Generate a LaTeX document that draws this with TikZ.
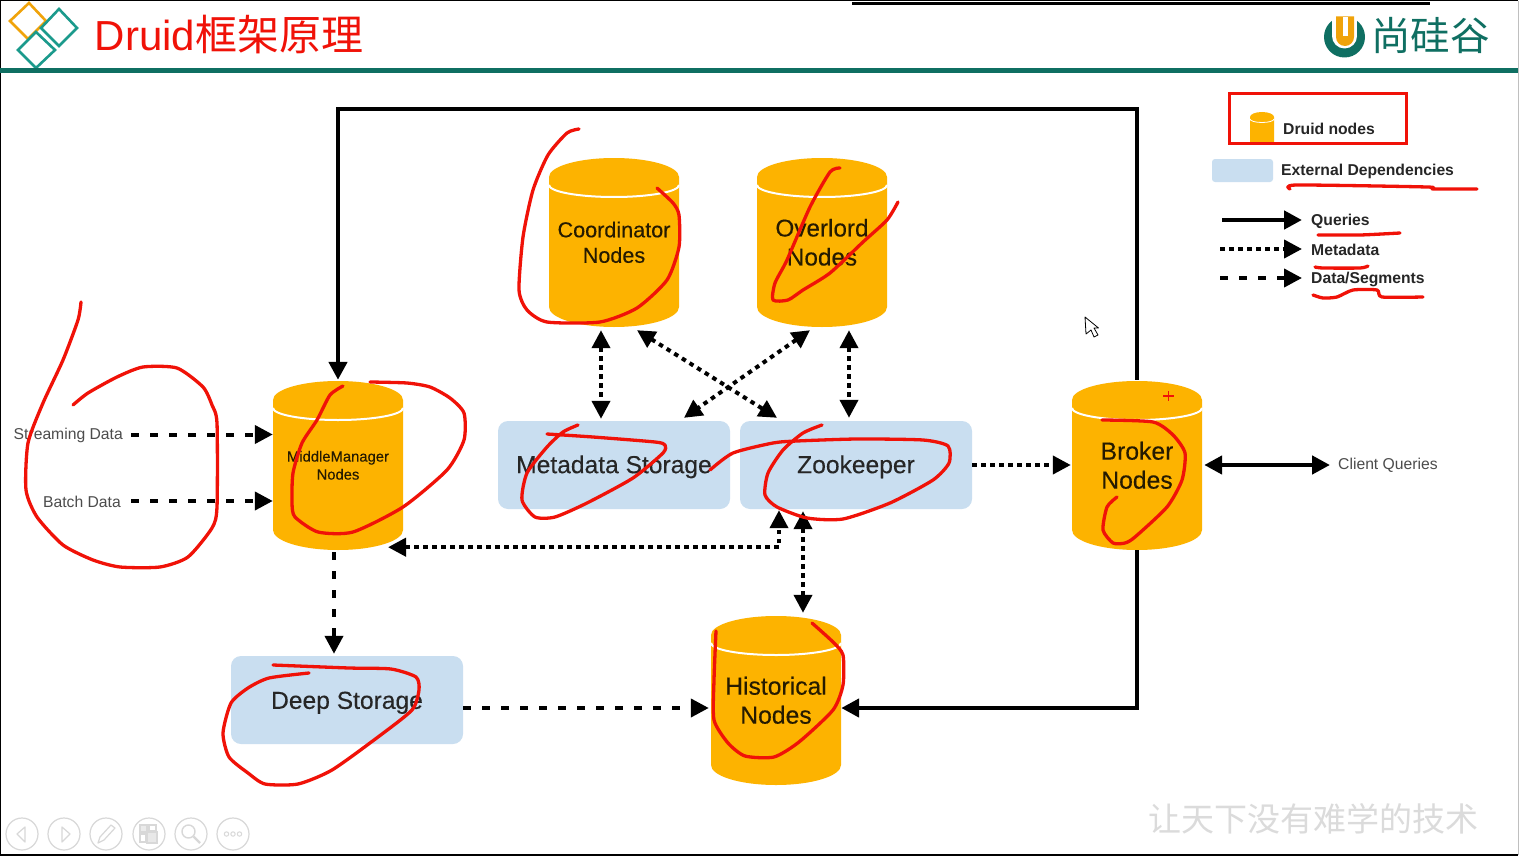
\documentclass[tikz,border=0pt]{standalone}
\usepackage{fontspec}
\setmainfont{Liberation Sans}
\newfontfamily\cjk{Noto Sans CJK SC}
\usetikzlibrary{arrows.meta,calc}
\definecolor{drum}{HTML}{FDB300}
\definecolor{extbox}{HTML}{C9DEF0}
\definecolor{tealbar}{HTML}{0F6F62}
\definecolor{tealdia}{HTML}{1B9A8C}
\definecolor{orgdia}{HTML}{F0A30A}
\definecolor{inkred}{HTML}{F01208}
\definecolor{ctrl}{HTML}{D8D8D8}
\newcommand{\fsz}[2]{\fontsize{#1}{#2}\selectfont}
\newcommand{\medw}{\addfontfeature{FakeBold=0.25}}
\tikzset{
  x=1pt,y=-1pt,
  qarrow/.style={line width=4.5pt,-{Triangle[length=18pt,width=18pt]}},
  qarrowboth/.style={line width=4.5pt,{Triangle[length=18pt,width=18pt]}-{Triangle[length=18pt,width=18pt]}},
  marrow/.style={line width=4pt,dash pattern=on 4.5pt off 4.5pt,-{Triangle[length=18pt,width=18pt]}},
  marrowboth/.style={line width=4pt,dash pattern=on 4.5pt off 4.5pt,{Triangle[length=18pt,width=18pt]}-{Triangle[length=18pt,width=18pt]}},
  darrow/.style={line width=4pt,dash pattern=on 8pt off 11pt,-{Triangle[length=18pt,width=18pt]}},
  extnode/.style={fill=extbox,rounded corners=10pt,minimum width=232pt,minimum height=88pt,inner sep=0pt},
  extlabel/.style={inner sep=0pt,text=black!85,yshift=-1.8pt,font=\medw\fsz{24.6}{29}},
  cylnode/.style={minimum width=130pt,minimum height=170pt,inner sep=0pt},
  cyllabel/.style={inner sep=0pt,align=center,text=black!85!drum,yshift=-0.3pt},
  smalllabel/.style={inner sep=0pt,text=black!70,font=\fsz{15.7}{18}},
  legendlabel/.style={inner sep=0pt,anchor=west,text=black!85,font=\bfseries\fsz{15.7}{18}},
  inkstroke/.style={draw=inkred,line width=3.3pt,line cap=round,line join=round,smooth,tension=0.4},
  ctrlring/.style={draw=ctrl,line width=1.2pt},
  diamondline/.style={line width=2.6pt,line join=miter},
}
% name, left, top, font, text
\newcommand{\drumcyl}[5]{%
  \fill[drum] ({#2},{#3+20}) -- ({#2},{#3+150})
    arc[start angle=180,end angle=360,x radius=65pt,y radius=20pt]
    -- ({#2+130},{#3+20})
    arc[start angle=0,end angle=180,x radius=65pt,y radius=19pt] -- cycle;
  \draw[white,line width=2pt] ({#2},{#3+28})
    arc[start angle=180,end angle=360,x radius=65pt,y radius=12pt];
  \node[cylnode,label={[cyllabel,font=#4]center:#5}] (#1) at ({#2+65},{#3+85}) {};
}
\begin{document}
\begin{tikzpicture}
\useasboundingbox (0,0) rectangle (1520,856);
\fill[white] (0,0) rectangle (1520,856);
% slide frame
\draw[black,line width=1.5pt] (1518,0.5) -- (0.5,0.5) -- (0.5,855.2) -- (1518,855.2);
\draw[black!25,line width=1pt] (1518.5,1) -- (1518.5,855);
\fill[black] (852,2) rectangle (1430,5);
% header
\draw[orgdia,diamondline] (29,3) -- (46,21) -- (28,39) -- (10,21) -- cycle;
\draw[tealdia,diamondline] (59,9) -- (77,28) -- (59,46) -- (41,28) -- cycle;
\draw[tealdia,diamondline] (36,32) -- (55,50) -- (36,68) -- (18,50) -- cycle;
\fill[tealbar] (0,68) rectangle (1518,73);
\node[inner sep=0pt,anchor=west,text=inkred,font=\fsz{42}{42}] (title) at (94.5,35) {Druid{\cjk 框架原理}};
% logo
\fill[tealbar] (1344.5,37) circle[radius=20.5pt];
\fill[white] (1332,14) rectangle (1357,36);
\fill[white] (1344.5,36) circle[radius=12.5pt];
\fill[orgdia] (1336,16.5) -- (1354,16.5) -- (1354,37)
  arc[start angle=0,end angle=-180,radius=9pt] -- cycle;
\fill[white] (1342.5,17) rectangle (1347.5,36);
\node[inner sep=0pt,anchor=west,text=tealbar,font=\cjk\fsz{39.5}{40}] (brand) at (1371,36) {尚硅谷};
% external dependency boxes
\node[extnode,label={[extlabel]center:Metadata Storage}] (meta) at (614,465) {};
\node[extnode,label={[extlabel]center:Zookeeper}] (zk) at (856,465) {};
\node[extnode,label={[extlabel,yshift=-1pt]center:Deep Storage}] (deep) at (347,700) {};
% druid nodes
\drumcyl{coord}{549}{157}{\medw\fsz{21.6}{25.5}}{Coordinator\\Nodes}
\drumcyl{over}{757}{157}{\medw\fsz{24.3}{29}}{Overlord\\Nodes}
\drumcyl{mm}{273}{380}{\medw\fsz{14.8}{18}}{MiddleManager\\Nodes}
\drumcyl{broker}{1072}{380}{\medw\fsz{24.7}{29}}{Broker\\Nodes}
\drumcyl{hist}{711}{615}{\medw\fsz{24.7}{29}}{Historical\\Nodes}
% side labels
\node[smalllabel,anchor=east] (stream) at (123,435.5) {Streaming Data};
\node[smalllabel,anchor=east] (batch) at (121,501.5) {Batch Data};
\node[smalllabel,anchor=west] (client) at (1338,465.5) {Client Queries};
% query connectors
\coordinate (qcorner) at (338,109);
\draw[qarrow] (broker.north) |- (qcorner) -- (mm.north);
\draw[qarrow] (broker.south) |- ([yshift=-8pt]hist.east);
\draw[qarrowboth] ([xshift=2pt]broker.east) -- ([xshift=-8pt]broker.east -| client.west);
% metadata connectors
\draw[marrowboth] ([xshift=-13pt,yshift=-3pt]coord.south) -- ([xshift=-13pt,yshift=2pt]meta.north);
\draw[marrowboth] ([xshift=23pt,yshift=-3pt]coord.south) -- ([xshift=-79pt,yshift=3pt]zk.north);
\draw[marrowboth] ([xshift=-12pt,yshift=-3pt]over.south) -- ([xshift=70pt,yshift=3pt]meta.north);
\draw[marrowboth] ([xshift=27pt,yshift=-3pt]over.south) -- ([xshift=-7pt,yshift=3pt]zk.north);
\draw[marrow] (zk.east) -- ([xshift=-1pt]broker.west);
\draw[marrowboth] ([xshift=50pt,yshift=3pt]mm.south) -| ([xshift=-77pt,yshift=-1pt]zk.south);
\draw[marrowboth] ([xshift=-53pt,yshift=-2pt]zk.south) -- ([xshift=27pt,yshift=2pt]hist.north);
% data connectors
\draw[darrow] ([xshift=8pt,yshift=1pt]stream.east) -- ([yshift=1pt]stream.east -| mm.west);
\draw[darrow] ([xshift=10pt,yshift=0.5pt]batch.east) -- ([yshift=0.5pt]batch.east -| mm.west);
\draw[darrow] ([xshift=-4pt,yshift=-2pt]mm.south) -- ([xshift=-4pt,yshift=2pt]mm.south |- deep.north);
\draw[darrow] ([yshift=-8pt]deep.east) -- ([xshift=-2pt,yshift=-8pt]hist.west);
% legend
\fill[drum] (1250,117) -- (1250,144) -- (1274,144) -- (1274,117)
  arc[start angle=0,end angle=180,x radius=12pt,y radius=5pt] -- cycle;
\draw[white,line width=0.8pt] (1250,119) arc[start angle=180,end angle=360,x radius=12pt,y radius=3.5pt];
\node[legendlabel] (ldruid) at (1283,129) {Druid nodes};
\draw[inkred,line width=3pt] (1229.5,93.5) rectangle (1406,143.5);
\fill[extbox,rounded corners=3pt] (1212,159) rectangle (1273,182);
\node[legendlabel] (lext) at (1281,171.5) {External Dependencies};
\node[legendlabel] (lq) at (1311,221.5) {Queries};
\node[legendlabel] (lm) at (1311,250) {Metadata};
\node[legendlabel] (ld) at (1311,279.5) {Data/Segments};
\coordinate (lqs) at (1222,220);
\coordinate (lms) at (1220,249);
\coordinate (lds) at (1220,278);
\draw[qarrow] (lqs) -- ([xshift=-9pt]lq.west |- lqs);
\draw[marrow] (lms) -- ([xshift=-9pt]lm.west |- lms);
\draw[darrow] (lds) -- ([xshift=-9pt]ld.west |- lds);
% cursor and pen mark
\draw[black,fill=white,line width=0.8pt,line join=round] (1085,317) -- (1086,334) -- (1091,330) -- (1094,337) -- (1098,335) -- (1094,328) -- (1098.5,328) -- cycle;
\draw[inkred,line width=1.2pt] (1163,396) -- (1174,396) (1168.5,391) -- (1168.5,401);
% slide controls
\foreach \cx/\nm in {22/a,64/b,106/c,149/d,191/e,233/f}
  \draw[ctrlring] (\cx,834) circle[radius=16pt];
\draw[ctrl,line width=1.2pt,line join=round] (25,827) -- (17,834) -- (25,842) -- cycle;
\draw[ctrl,line width=1.2pt,line join=round] (62,827) -- (70,834) -- (62,842) -- cycle;
\draw[ctrl,line width=1.2pt,line join=round] (98,843) -- (100,837) -- (111,825) -- (115,828) -- (104,840) -- cycle;
\draw[ctrl,fill=ctrl!50,line width=1.2pt] (140,825) rectangle (147,832);
\draw[ctrl,line width=1.2pt] (149,825) rectangle (156,831);
\draw[ctrl,line width=1.2pt] (140,834) rectangle (146,842);
\draw[ctrl,fill=ctrl!60,line width=1.2pt] (147,832) rectangle (157,843);
\draw[ctrl,line width=1.4pt] (188.5,831.5) circle[radius=6.5pt];
\draw[ctrl,line width=2.2pt] (193.5,836.5) -- (200,843);
\foreach \dx in {226.5,233,239.5}
  \draw[ctrl,line width=1pt] (\dx,834) circle[radius=2.2pt];
% watermark
\node[inner sep=0pt,anchor=west,text=black!14,font=\cjk\fsz{33}{33}] (mark) at (1148,819) {让天下没有难学的技术};
% red annotation strokes
\draw[inkstroke] plot coordinates {(81,302) (78,320) (63,360) (43,403) (28,443) (26,490) (37,517) (63,545) (93,560) (120,567) (160,567) (188,557) (212,528) (217,507) (217,423) (212,405) (203,387) (177,368) (143,367) (117,377) (88,393) (73,405)};
\draw[inkstroke] plot coordinates {(579,129) (567,133) (548,155) (533,190) (523,237) (519,290) (527,310) (547,322) (600,322) (637,308) (667,280) (679,247) (679,215) (673,203) (657,188)};
\draw[inkstroke] plot coordinates {(840,168) (830,172) (810,207) (787,260) (775,283) (773,300) (788,300) (803,290) (830,273) (863,242) (887,220) (898,202)};
\draw[inkstroke] plot coordinates {(343,386) (330,395) (317,420) (302,443) (293,473) (292,503) (295,517) (318,532) (353,532) (403,507) (447,470) (464,440) (464,413) (450,398) (430,387) (407,383) (370,382)};
\draw[inkstroke] plot coordinates {(578,425) (563,432) (547,447) (527,473) (522,500) (535,517) (555,517) (587,503) (633,478) (663,453) (665,445) (655,442) (593,437) (547,434)};
\draw[inkstroke] plot coordinates {(710,470) (733,453) (773,443) (797,441) (857,439) (923,440) (948,446) (949,463) (933,480) (890,503) (843,519) (807,518) (777,507) (765,495) (768,473) (783,450) (803,433) (822,425)};
\draw[inkstroke] plot coordinates {(1102,420) (1153,422) (1173,435) (1185,453) (1182,480) (1167,507) (1135,537) (1125,543) (1113,543) (1103,530) (1107,507) (1117,497)};
\draw[inkstroke] plot coordinates {(273,665) (349,668) (391,669) (416,677) (419,690) (412,710) (378,737) (332,770) (298,784) (265,784) (248,773) (229,757) (223,733) (231,703) (248,688) (269,678) (309,673)};
\draw[inkstroke] plot coordinates {(716,631) (714,680) (714,720) (728,743) (745,756) (774,757) (799,742) (833,710) (843,685) (843,655) (833,642) (812,623)};
\draw[inkstroke] plot coordinates {(1290,189) (1297,185) (1427,187) (1433,189) (1477,189)};
\draw[inkstroke] plot coordinates {(1318,235) (1360,235) (1400,233)};
\draw[inkstroke] plot coordinates {(1315,267) (1323,268) (1360,268) (1368,266)};
\draw[inkstroke] plot coordinates {(1313,295) (1323,298) (1337,297) (1353,290) (1377,290) (1382,297) (1423,297)};
\end{tikzpicture}
\end{document}
